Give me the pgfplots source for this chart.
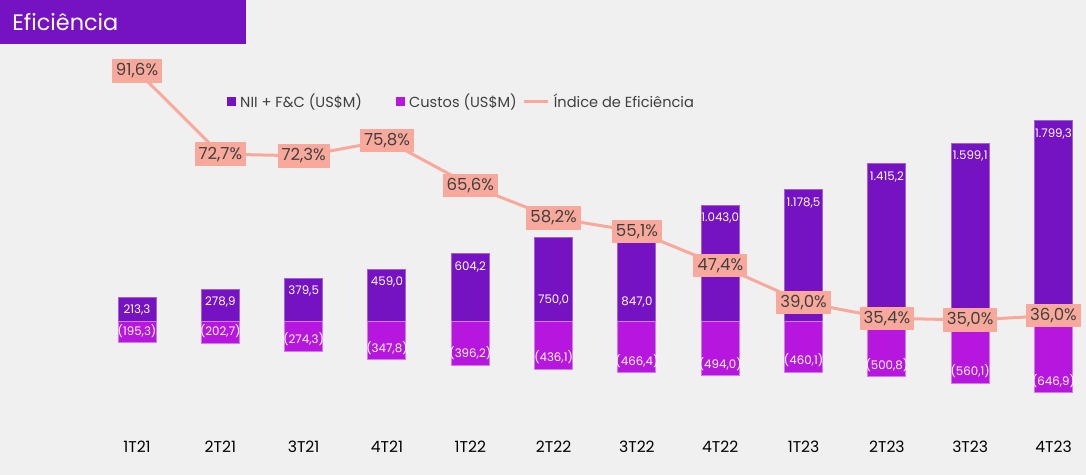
\documentclass[border=0pt]{standalone}
\usepackage{pgfplots}
\pgfplotsset{compat=1.18}
\usepackage{pgfplotstable}
\usepackage{fontspec}
\setmainfont{Poppins}

\definecolor{bg}{HTML}{F0F0F0}
\definecolor{nii}{HTML}{7513C3}
\definecolor{niiedge}{HTML}{A060DA}
\definecolor{custo}{HTML}{B716DE}
\definecolor{custoedge}{HTML}{D27BEC}
\definecolor{salmon}{HTML}{F9A99B}
\definecolor{txt}{HTML}{404040}

% quarter, NII+F&C, costs (positive), efficiency index, label shift (pt)
\pgfplotstableread{
x nii cost idx sh
0 213.3 195.3 91.6 -6.2
1 278.9 202.7 72.7 -6.2
2 379.5 274.3 72.3 -6.2
3 459.0 347.8 75.8 -6.2
4 604.2 396.2 65.6 -6.6
5 750.0 436.1 58.2 -31
6 847.0 466.4 55.1 -37.5
7 1043.0 494.0 47.4 -6.6
8 1178.5 460.1 39.0 -6.6
9 1415.2 500.8 35.4 -6.6
10 1599.1 560.1 35.0 -6.6
11 1799.3 646.9 36.0 -6.6
}\data

\pgfplotsset{
  base/.style={
    at={(20pt,17.5pt)}, anchor=south west,
    scale only axis, width=523pt, height=202.5pt,
    xmin=-1.1645, xmax=11.39,
    axis line style={draw=none}, major tick length=0pt,
    ytick=\empty,
    /pgf/number format/.cd, fixed, fixed zerofill, precision=1,
    use comma, 1000 sep={.}, assume math mode=true,
  },
}

\begin{document}
\begin{tikzpicture}
\useasboundingbox (0,0) rectangle (543pt,237.5pt);
\fill[bg] (0,0) rectangle (543pt,237.5pt);
\fill[nii] (0,215.5pt) rectangle (123pt,237.5pt);
\node[anchor=west, text=white, font=\fontsize{11.2}{13}\selectfont, inner sep=0pt]
  at (6pt,226.3pt) {Eficiência};

\begin{axis}[base,
  ymin=-1070, ymax=2572,
  xtick={0,...,11},
  xticklabels={1T21,2T21,3T21,4T21,1T22,2T22,3T22,4T22,1T23,2T23,3T23,4T23},
  xticklabel style={anchor=center, yshift=-3.5pt, text=black,
    font=\fontsize{7.8}{9}\selectfont},
  ybar, bar width=19pt,
  legend style={at={(0.404,0.835)}, anchor=center, draw=none, fill=none,
    legend columns=-1, font=\fontsize{7.3}{9}\selectfont, text=txt,
    /tikz/column 2/.style={column sep=15pt},
    /tikz/column 4/.style={column sep=1pt}},
  legend cell align=left,
  nodes near coords,
  every node near coord/.append style={text=white, font=\fontsize{5.9}{7}\selectfont},
]
\addplot[bar shift=0pt, fill=nii, draw=niiedge, line width=0.5pt,
  point meta=explicit,
  visualization depends on={\thisrow{sh}\as\lsh},
  every node near coord/.append style={anchor=center, yshift=\lsh pt},
  legend image code/.code={\fill[nii] (0pt,-2pt) rectangle (4pt,2pt);}]
  table[x=x, y=nii, meta=nii] {\data};
\addlegendentry{NII + F\&C (US\$M)}
\addplot[bar shift=0pt, fill=custo, draw=custoedge, line width=0.5pt,
  point meta=explicit,
  nodes near coords={(\pgfmathprintnumber{\pgfplotspointmeta})},
  every node near coord/.append style={anchor=center, yshift=6pt},
  legend image code/.code={\fill[custo] (0pt,-2pt) rectangle (4pt,2pt);}]
  table[x=x, y expr=-\thisrow{cost}, meta=cost] {\data};
\addlegendentry{Custos (US\$M)}
\addlegendimage{legend image code/.code={\draw[salmon, line width=1.5pt] (0pt,0pt) -- (12pt,0pt);}}
\addlegendentry{Índice de Eficiência}
\end{axis}

\begin{axis}[base,
  ymin=7.73, ymax=99.77, xtick=\empty,
]
\addplot[salmon, line width=1.5pt, mark=none,
  nodes near coords={\pgfmathprintnumber{\pgfplotspointmeta}\%},
  point meta=y,
  every node near coord/.append style={anchor=center, fill=salmon, text=txt,
    font=\fontsize{8.3}{9}\selectfont, inner xsep=2pt, inner ysep=2.2pt}]
  table[x=x, y=idx] {\data};
\end{axis}
\end{tikzpicture}
\end{document}
